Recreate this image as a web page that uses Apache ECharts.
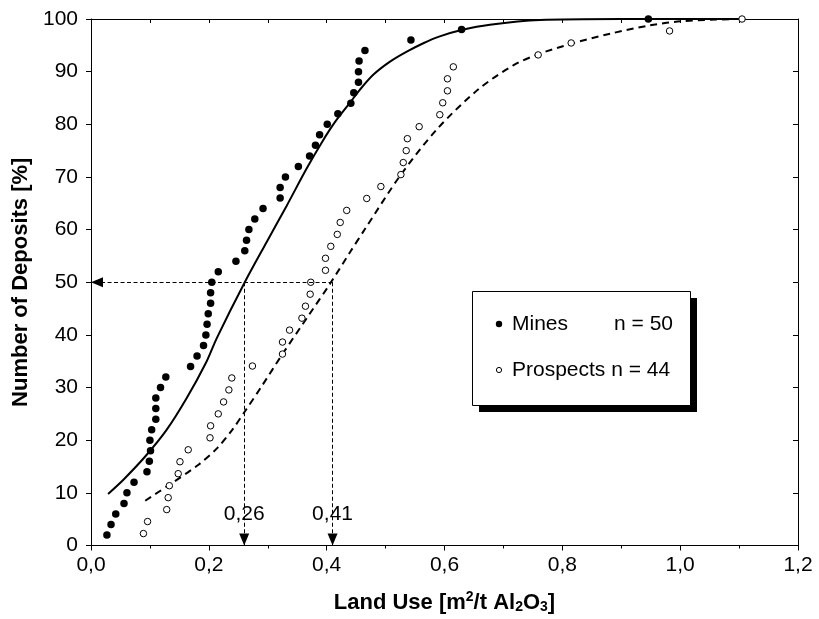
<!DOCTYPE html>
<html><head><meta charset="utf-8">
<script src="https://cdn.jsdelivr.net/npm/echarts@6/dist/echarts.min.js"></script>
<style>html,body{margin:0;padding:0;background:#fff}#c{width:819px;height:619px}</style>
</head><body><div id="c"></div>
<script>
// Mines (n = 50): land use [m2/t Al2O3] and cumulative share [%]
const mineX = [0.027,0.034,0.042,0.056,0.061,0.073,0.095,0.099,0.101,0.100,
               0.103,0.110,0.110,0.110,0.118,0.127,0.169,0.180,0.191,0.195,
               0.197,0.199,0.203,0.203,0.205,0.216,0.246,0.261,0.264,0.268,
               0.278,0.292,0.321,0.321,0.330,0.352,0.371,0.381,0.388,0.401,
               0.419,0.441,0.446,0.454,0.454,0.455,0.465,0.543,0.629,0.946];
const mineY = [2,4,6,8,10,12,14,16,18,20,22,24,26,28,30,32,34,36,38,40,
               42,44,46,48,50,52,54,56,58,60,62,64,66,68,70,72,74,76,78,80,
               82,84,86,88,90,92,94,96,98,100];
// Prospects (n = 44)
const prospX = [0.089,0.096,0.1285,0.131,0.133,0.148,0.151,0.165,0.202,0.203,
                0.216,0.225,0.234,0.239,0.274,0.325,0.325,0.337,0.358,0.364,
                0.372,0.373,0.398,0.398,0.407,0.418,0.423,0.434,0.468,0.492,
                0.526,0.530,0.535,0.537,0.557,0.592,0.597,0.605,0.605,0.615,
                0.759,0.815,0.982,1.105];
const prospY = [2.27,4.55,6.82,9.09,11.36,13.64,15.91,18.18,20.45,22.73,
                25.00,27.27,29.55,31.82,34.09,36.36,38.64,40.91,43.18,45.45,
                47.73,50.00,52.27,54.55,56.82,59.09,61.36,63.64,65.91,68.18,
                70.45,72.73,75.00,77.27,79.55,81.82,84.09,86.36,88.64,90.91,
                93.18,95.45,97.73,100.00];
// Fitted curves
const mineFitX = [0.029,0.055,0.092,0.128,0.162,0.196,0.2135,0.261,0.298,0.332,0.366,0.392,0.414,0.441,0.4566,0.479,0.5075,0.536,0.564,0.592,0.629,0.677,0.762,0.90,1.10];
const mineFitY = [9.8,12.5,16.9,21.9,27.9,34.9,39.4,50.0,57.6,64.5,71.6,76.6,80.4,84.3,86.6,89.4,91.9,93.8,95.4,96.7,97.9,98.9,99.8,100,100];
const prospFitX = [0.092,0.134,0.183,0.215,0.240,0.262,0.290,0.3264,0.370,0.4056,0.4396,0.465,0.5245,0.5867,0.657,0.7167,0.759,0.815,0.881,0.949,1.005,1.10];
const prospFitY = [8.5,11.6,15.4,18.6,22.0,25.6,30.3,36.6,43.8,49.7,55.7,60.1,70.2,79.0,86.6,91.2,93.3,95.3,97.2,98.8,99.6,100];
// Read-off lines at 50 %
const readLevel = 50;
const readX = [0.26, 0.41];
const readLabels = ['0,26', '0,41'];
const readLabelY = 6;
// Axes
const xMin = 0, xMax = 1.2, xStep = 0.2;
const yMin = 0, yMax = 100, yStep = 10;
const legendRows = [['Mines', 'n = 50'], ['Prospects n = 44', '']];

const FONT = 'Liberation Sans, Arial, sans-serif';
const chart = echarts.init(document.getElementById('c'), null, {renderer: 'canvas'});
const zip = (a, b) => a.map((v, i) => [v, b[i]]);
const comma = v => v.toFixed(1).replace('.', ',');

const bold = {fontFamily: FONT, fontWeight: 'bold', fontSize: 22, color: '#000'};

chart.setOption({
  animation: false,
  backgroundColor: '#fff',
  grid: {left: 91, right: 21, top: 19, bottom: 72, containLabel: false},
  xAxis: [{
    type: 'value', min: xMin, max: xMax, interval: xStep, position: 'bottom',
    axisLine: {show: true, onZero: false, lineStyle: {color: '#000', width: 1}},
    axisTick: {show: true, inside: false, length: 5, lineStyle: {color: '#000'}},
    minorTick: {show: true, splitNumber: 2, length: 3, lineStyle: {color: '#000'}},
    splitLine: {show: false},
    axisLabel: {formatter: comma, fontFamily: FONT, fontSize: 21, color: '#000', margin: 9},
    name: '{b|Land Use [m}{sup|2}{b|/t Al}{sub|2}{b|O}{sub|3}{b|]}',
    nameLocation: 'middle', nameGap: 45,
    nameTextStyle: {
      rich: {
        b: bold,
        sup: {fontFamily: FONT, fontWeight: 'bold', fontSize: 14, color: '#000', padding: [0, 0, 10, 0]},
        sub: {fontFamily: FONT, fontWeight: 'bold', fontSize: 14, color: '#000', padding: [9, 0, 0, 0]}
      }
    }
  }, {
    type: 'value', min: xMin, max: xMax, interval: xStep / 2, position: 'top',
    axisLine: {show: true, onZero: false, lineStyle: {color: '#000', width: 1}},
    axisTick: {show: true, inside: true, length: 4, lineStyle: {color: '#000'}},
    axisLabel: {show: false}, splitLine: {show: false}
  }],
  yAxis: [{
    type: 'value', min: yMin, max: yMax, interval: yStep, position: 'left',
    axisLine: {show: true, onZero: false, lineStyle: {color: '#000', width: 1}},
    axisTick: {show: true, inside: false, length: 5, lineStyle: {color: '#000'}},
    splitLine: {show: false},
    axisLabel: {fontFamily: FONT, fontSize: 21, color: '#000', margin: 13},
    name: 'Number of Deposits [%]', nameLocation: 'middle', nameGap: 57,
    nameTextStyle: bold
  }, {
    type: 'value', min: yMin, max: yMax, interval: yStep, position: 'right',
    axisLine: {show: true, onZero: false, lineStyle: {color: '#000', width: 1}},
    axisTick: {show: true, inside: true, length: 5, lineStyle: {color: '#000'}},
    axisLabel: {show: false}, splitLine: {show: false}
  }],
  series: [
    {
      type: 'line', name: 'readoff', data: [], silent: true, z: 1,
      markLine: {
        silent: true, animation: false,
        symbol: ['none', 'triangle'], symbolSize: [10, 12],
        symbolOffset: [[0, 0], [0, 6]],
        lineStyle: {color: '#000', width: 1, type: [4, 2.5]},
        label: {show: false},
        data: [
          [{coord: [readX[1], readLevel]}, {coord: [xMin, readLevel]}],
          [{coord: [readX[0], readLevel]}, {coord: [readX[0], yMin]}],
          [{coord: [readX[1], readLevel]}, {coord: [readX[1], yMin]}]
        ]
      }
    },
    {
      type: 'scatter', name: 'readLabels', silent: true, z: 3,
      symbolSize: 1, itemStyle: {color: 'rgba(255,255,255,0)', opacity: 1},
      data: readX.map((x, i) => ({value: [x, readLabelY], name: readLabels[i]})),
      label: {show: true, position: 'inside', formatter: p => p.name,
              fontFamily: FONT, fontSize: 21, color: '#000',
              backgroundColor: '#fff', padding: [1, 2]}
    },
    {
      type: 'line', name: 'Mines fit', data: zip(mineFitX, mineFitY), smooth: 0.3,
      showSymbol: false, symbol: 'none', z: 2,
      lineStyle: {color: '#000', width: 2}
    },
    {
      type: 'line', name: 'Prospects fit', data: zip(prospFitX, prospFitY), smooth: 0.3,
      showSymbol: false, symbol: 'none', z: 2,
      lineStyle: {color: '#000', width: 2, type: [7, 5]}
    },
    {
      type: 'scatter', name: 'Mines', data: zip(mineX, mineY), z: 4,
      symbol: 'circle', symbolSize: 7.5,
      itemStyle: {color: '#000', opacity: 1}
    },
    {
      type: 'scatter', name: 'Prospects', data: zip(prospX, prospY), z: 4,
      symbol: 'circle', symbolSize: 6.5,
      itemStyle: {color: '#fff', borderColor: '#000', borderWidth: 1, opacity: 1}
    }
  ],
  graphic: [
    {type: 'rect', left: 479, top: 298, shape: {width: 218, height: 114}, style: {fill: '#000'}, z: 10},
    {type: 'rect', left: 472, top: 291, shape: {width: 218, height: 114}, style: {fill: '#fff', stroke: '#000', lineWidth: 1}, z: 11},
    {type: 'circle', shape: {cx: 499, cy: 324, r: 3.2}, style: {fill: '#000'}, z: 12},
    {type: 'circle', shape: {cx: 499, cy: 370, r: 2.6}, style: {fill: '#fff', stroke: '#000', lineWidth: 1}, z: 12},
    {type: 'text', x: 512, y: 324, style: {text: legendRows[0][0], font: '21px ' + FONT, fill: '#000', verticalAlign: 'middle', align: 'left'}, z: 12},
    {type: 'text', x: 673, y: 324, style: {text: legendRows[0][1], font: '21px ' + FONT, fill: '#000', verticalAlign: 'middle', align: 'right'}, z: 12},
    {type: 'text', x: 512, y: 370, style: {text: legendRows[1][0], font: '21px ' + FONT, fill: '#000', verticalAlign: 'middle', align: 'left'}, z: 12}
  ]
});
</script>
</body></html>
